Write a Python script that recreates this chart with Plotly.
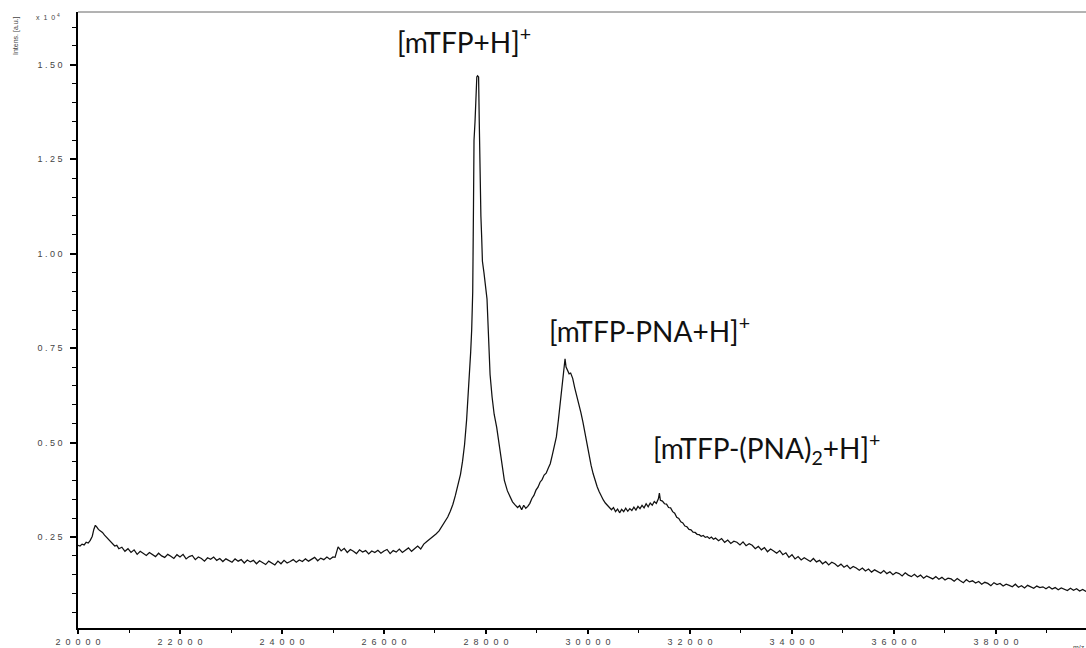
import plotly.graph_objects as go

# ---------------- data (m/z, intensity in units of 1e4 a.u.) ----------------
mz = [
    20000, 20040, 20080, 20120, 20160, 20200, 20240, 20280, 20310, 20340, 20370, 20400,
    20440, 20480, 20520, 20560, 20600, 20640, 20680, 20720, 20760, 20800,
    20860, 20920, 20980, 21040, 21100, 21160, 21220, 21280, 21340, 21400, 21460, 21520,
    21580, 21640, 21700, 21760, 21820, 21880, 21940, 22000, 22060, 22120, 22180, 22240,
    22300, 22360, 22420, 22480, 22540, 22600, 22660, 22720, 22780, 22840, 22900, 22960,
    23020, 23080, 23140, 23200, 23260, 23320, 23380, 23440, 23500, 23560, 23620, 23680,
    23740, 23800, 23860, 23920, 23980, 24040, 24100, 24160, 24220, 24280, 24340, 24400,
    24460, 24520, 24580, 24640, 24700, 24760, 24820, 24880, 24940, 25000, 25040, 25070,
    25100, 25160, 25220, 25280, 25340, 25400, 25460, 25520, 25580, 25640, 25700, 25760,
    25820, 25880, 25940, 26000, 26060, 26120, 26180, 26240, 26300, 26360, 26420, 26480,
    26540, 26600, 26660, 26720, 26780, 26840, 26900, 26960, 27020, 27080, 27140, 27200,
    27250, 27300, 27350, 27400, 27450, 27500, 27540, 27580, 27620, 27650, 27680, 27700,
    27720, 27740, 27755, 27765, 27785, 27805, 27820, 27835, 27855, 27868, 27882, 27900,
    27915, 27930, 27960, 27990, 28020, 28050, 28080, 28120, 28160, 28210, 28260, 28310,
    28360, 28420, 28470, 28520, 28570, 28620, 28660, 28700, 28740, 28780, 28820, 28860,
    28900, 28940, 28980, 29020, 29060, 29100, 29140, 29180, 29220, 29260, 29300, 29340,
    29380, 29420, 29460, 29500, 29530, 29550, 29570, 29600, 29630, 29660, 29700, 29740,
    29780, 29820, 29860, 29900, 29940, 29980, 30020, 30060, 30100, 30140, 30180, 30220,
    30260, 30300, 30340, 30380, 30420, 30460, 30500, 30540, 30580, 30620, 30660, 30700,
    30740, 30780, 30820, 30860, 30900, 30940, 30980, 31020, 31060, 31100, 31140, 31180,
    31220, 31260, 31300, 31340, 31380, 31400, 31420, 31460, 31500, 31540, 31580, 31620,
    31660, 31700, 31740, 31780, 31820, 31860, 31900, 31940, 31980, 32020, 32060, 32100,
    32140, 32180, 32220, 32260, 32300, 32340, 32380, 32420, 32460,
    32500, 32560, 32620, 32680, 32740, 32800, 32860, 32920, 32980, 33040, 33100, 33160,
    33220, 33280, 33340, 33400, 33460, 33520, 33580, 33640, 33700, 33760, 33820, 33880,
    33940, 34000, 34060, 34120, 34180, 34240, 34300, 34360, 34420, 34480, 34540, 34600,
    34660, 34720, 34780, 34840, 34900, 34960, 35020, 35080, 35140, 35200, 35260, 35320,
    35380, 35440, 35500, 35560, 35620, 35680, 35740, 35800, 35860, 35920, 35980, 36040,
    36100, 36160, 36220, 36280, 36340, 36400, 36460, 36520, 36580, 36640, 36700, 36760,
    36820, 36880, 36940, 37000, 37060, 37120, 37180, 37240, 37300, 37360, 37420, 37480,
    37540, 37600, 37660, 37720, 37780, 37840, 37900, 37960, 38020, 38080, 38140, 38200,
    38260, 38320, 38380, 38440, 38500, 38560, 38620, 38680, 38740, 38800, 38860, 38920,
    38980, 39040, 39100, 39160, 39220, 39280, 39340, 39400, 39460, 39520, 39580, 39640,
    39700, 39760, 39820,
]

intensity = [
    0.228, 0.226, 0.231, 0.229, 0.236, 0.234, 0.241, 0.252, 0.270, 0.281, 0.276, 0.270,
    0.266, 0.262, 0.255, 0.249, 0.243, 0.238, 0.231, 0.226, 0.228, 0.219,
    0.223, 0.212, 0.219, 0.209, 0.216, 0.204, 0.212, 0.207, 0.201, 0.209, 0.203, 0.198,
    0.207, 0.200, 0.196, 0.204, 0.199, 0.193, 0.203, 0.197, 0.204, 0.192, 0.198, 0.201,
    0.190, 0.197, 0.193, 0.186, 0.195, 0.191, 0.197, 0.188, 0.193, 0.185, 0.192, 0.187,
    0.183, 0.192, 0.186, 0.190, 0.181, 0.189, 0.184, 0.188, 0.179, 0.187, 0.182, 0.177,
    0.186, 0.180, 0.176, 0.186, 0.179, 0.188, 0.181, 0.185, 0.190, 0.183, 0.189, 0.185,
    0.192, 0.186, 0.191, 0.196, 0.187, 0.194, 0.190, 0.197, 0.191, 0.197, 0.196, 0.214,
    0.224, 0.213, 0.220, 0.209, 0.217, 0.212, 0.206, 0.216, 0.210, 0.214, 0.205, 0.213,
    0.209, 0.215, 0.207, 0.213, 0.217, 0.206, 0.214, 0.210, 0.218, 0.209, 0.216, 0.221,
    0.212, 0.219, 0.226, 0.218, 0.231, 0.238, 0.244, 0.250, 0.258, 0.266, 0.278, 0.291,
    0.303, 0.318, 0.336, 0.360, 0.388, 0.416, 0.450, 0.495, 0.560, 0.620, 0.690, 0.740,
    0.800, 0.900, 1.130, 1.300, 1.350, 1.420, 1.468, 1.471, 1.468, 1.350, 1.190, 1.100,
    1.045, 0.980, 0.950, 0.920, 0.880, 0.780, 0.680, 0.620, 0.575, 0.540, 0.490, 0.440,
    0.400, 0.372, 0.356, 0.343, 0.335, 0.328, 0.333, 0.322, 0.334, 0.326, 0.331, 0.339,
    0.352, 0.360, 0.374, 0.382, 0.395, 0.402, 0.414, 0.419, 0.432, 0.444, 0.467, 0.488,
    0.515, 0.560, 0.615, 0.665, 0.705, 0.722, 0.700, 0.690, 0.682, 0.684, 0.670, 0.645,
    0.625, 0.600, 0.580, 0.555, 0.525, 0.505, 0.475, 0.440, 0.418, 0.398, 0.383, 0.370,
    0.358, 0.348, 0.340, 0.334, 0.330, 0.322, 0.328, 0.317, 0.324, 0.314, 0.323, 0.317,
    0.326, 0.318, 0.325, 0.320, 0.329, 0.321, 0.331, 0.325, 0.334, 0.327, 0.338, 0.330,
    0.340, 0.334, 0.344, 0.339, 0.351, 0.366, 0.347, 0.345, 0.338, 0.337, 0.328, 0.327,
    0.317, 0.313, 0.302, 0.299, 0.290, 0.287, 0.279, 0.277, 0.270, 0.269, 0.263, 0.262,
    0.257, 0.256, 0.252, 0.254, 0.249, 0.251, 0.246, 0.250, 0.244,
    0.247, 0.240, 0.246, 0.236, 0.242, 0.233, 0.239, 0.236, 0.229, 0.237, 0.227, 0.232,
    0.228, 0.219, 0.225, 0.216, 0.222, 0.211, 0.218, 0.213, 0.207, 0.214, 0.203, 0.208,
    0.196, 0.203, 0.192, 0.198, 0.189, 0.195, 0.191, 0.185, 0.193, 0.184, 0.188, 0.179,
    0.185, 0.176, 0.183, 0.179, 0.172, 0.178, 0.170, 0.175, 0.166, 0.172, 0.168, 0.162,
    0.168, 0.160, 0.165, 0.157, 0.163, 0.159, 0.154, 0.161, 0.153, 0.158, 0.150, 0.156,
    0.153, 0.147, 0.155, 0.149, 0.145, 0.151, 0.144, 0.149, 0.141, 0.147, 0.143, 0.139,
    0.145, 0.138, 0.143, 0.136, 0.141, 0.139, 0.133, 0.140, 0.134, 0.129, 0.137, 0.131,
    0.134, 0.128, 0.132, 0.125, 0.130, 0.127, 0.121, 0.129, 0.124, 0.127, 0.120, 0.125,
    0.122, 0.118, 0.125, 0.117, 0.121, 0.115, 0.122, 0.119, 0.114, 0.120, 0.116, 0.118,
    0.113, 0.118, 0.112, 0.116, 0.110, 0.115, 0.111, 0.108, 0.114, 0.109, 0.113, 0.107,
    0.111, 0.106, 0.110,
]

assert len(mz) == len(intensity), (len(mz), len(intensity))

x_tick_vals = [20000, 22000, 24000, 26000, 28000, 30000, 32000, 34000, 36000, 38000]
x_tick_text = ["20000", "22000", "24000", "26000", "28000", "30000", "32000", "34000", "36000", "38000"]
y_tick_vals = [0.25, 0.50, 0.75, 1.00, 1.25, 1.50]
y_tick_text = ["0.25", "0.50", "0.75", "1.00", "1.25", "1.50"]

peak_labels = [
    "[mTFP+H]<sup>+</sup>",
    "[mTFP-PNA+H]<sup>+</sup>",
    "[mTFP-(PNA)<sub>2</sub>+H]<sup>+</sup>",
]

NB = "\u00a0"


def spaced(s, gap):
    return (NB * gap).join(list(s))


W, H = 1086, 648
ML, MR, MT, MB = 78, 0, 12, 20
PW, PH = W - ML - MR, H - MT - MB


def px(xp):
    return (xp - ML) / PW


def py(yp):
    return (H - MB - yp) / PH


fig = go.Figure()
fig.add_trace(go.Scatter(
    x=mz, y=intensity, mode="lines",
    line=dict(color="#111111", width=1.25),
    showlegend=False, hoverinfo="skip",
))

tickfont = dict(family="Liberation Sans, Arial, sans-serif", size=9, color="#444444")

fig.update_layout(
    width=W, height=H,
    margin=dict(l=ML, r=MR, t=MT, b=MB),
    paper_bgcolor="white", plot_bgcolor="white",
    xaxis=dict(
        range=[20000, 39765], showgrid=False, zeroline=False,
        showline=True, linecolor="#000000", linewidth=1.5,
        ticks="outside", ticklen=4, tickwidth=1.5, tickcolor="#000000",
        tickvals=x_tick_vals, ticktext=[spaced(t, 2) for t in x_tick_text],
        tickfont=tickfont,
        minor=dict(dtick=1000, tick0=0, ticks="outside", ticklen=3, tickwidth=1.3, tickcolor="#000000", showgrid=False),
    ),
    yaxis=dict(
        range=[0.009, 1.640], showgrid=False, zeroline=False,
        showline=True, linecolor="#000000", linewidth=1.5,
        ticks="outside", ticklen=6, tickwidth=1.5, tickcolor="#000000",
        tickvals=y_tick_vals, ticktext=[spaced(t, 1) for t in y_tick_text],
        tickfont=tickfont, ticklabelstandoff=6,
        minor=dict(dtick=0.05, tick0=0, ticks="outside", ticklen=4, tickwidth=1.2, tickcolor="#000000", showgrid=False),
    ),
    shapes=[dict(type="line", xref="paper", yref="paper", x0=0, x1=1, y0=1, y1=1,
                 line=dict(color="#666666", width=1))],
)

label_font = dict(family="Lato, Carlito, Calibri, sans-serif", size=28, color="#111111")
label_pos = [(395, 41), (547, 329), (651, 448)]
for txt, (lx, ly) in zip(peak_labels, label_pos):
    fig.add_annotation(text=txt, xref="paper", yref="paper", x=px(lx), y=py(ly),
                       xanchor="left", yanchor="middle", showarrow=False, font=label_font)

small = dict(family="Liberation Sans, Arial, sans-serif", size=7, color="#444444")
fig.add_annotation(text="x" + NB + NB + "1" + NB + NB + "0" + NB + "<sup>4</sup>", xref="paper", yref="paper",
                   x=px(34), y=py(17), xanchor="left", yanchor="middle", showarrow=False, font=small)
fig.add_annotation(text="Intens. [a.u.]", xref="paper", yref="paper", textangle=-90,
                   x=px(16), y=py(36), xanchor="center", yanchor="middle", showarrow=False, font=small)
fig.add_annotation(text="m/z", xref="paper", yref="paper",
                   x=px(1071), y=py(642), xanchor="left", yanchor="top", showarrow=False, font=small)

fig.write_html("out.html")
